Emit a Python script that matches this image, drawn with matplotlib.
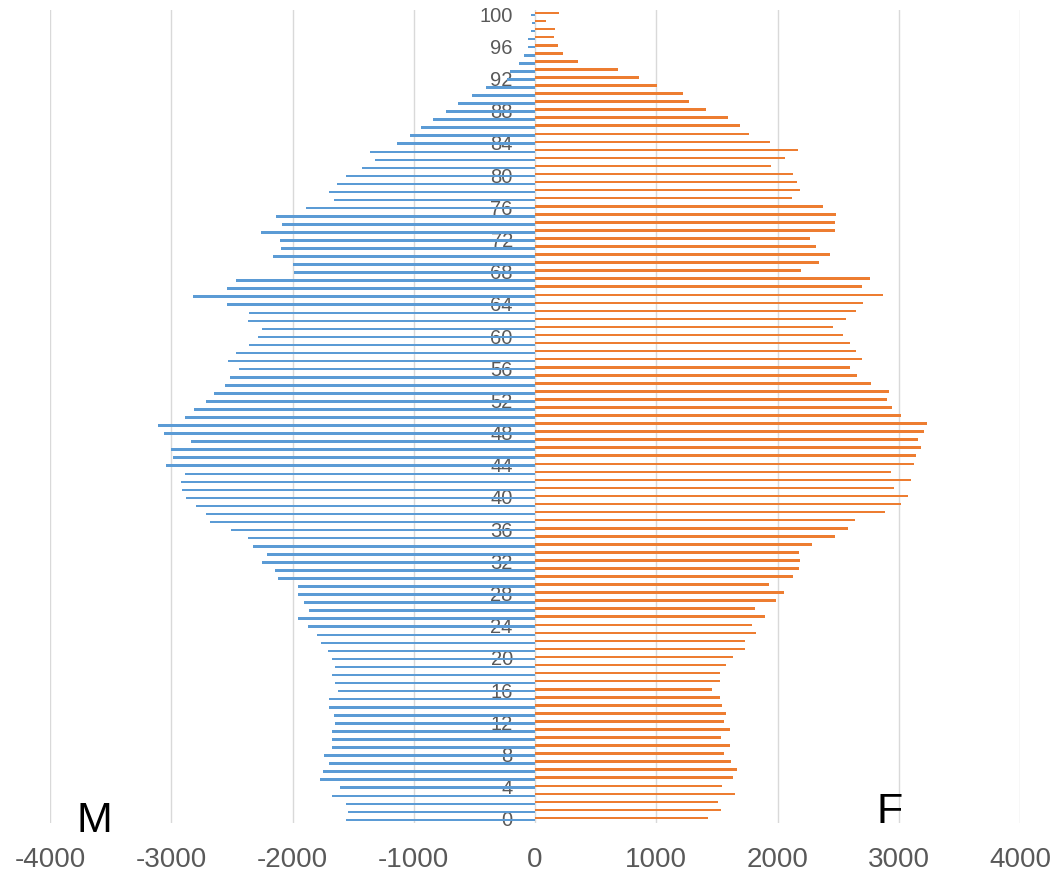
'''Befolkningspyramide, menn mot kvinner etter alder'''

import matplotlib
matplotlib.use('Agg')
import matplotlib.pyplot as plt

# Data (lest av figuren)

ages = list(range(0, 101))

male = [1561, 1544, 1556, 1672, 1611, 1772, 1750, 1700, 1739, 1672,
        1672, 1672, 1650, 1661, 1700, 1700, 1628, 1650, 1678, 1650,
        1672, 1711, 1761, 1800, 1872, 1956, 1861, 1906, 1956, 1956,
        2117, 2144, 2250, 2211, 2328, 2367, 2506, 2678, 2717, 2800,
        2878, 2911, 2922, 2889, 3044, 2983, 3006, 2833, 3056, 3111,
        2889, 2811, 2711, 2644, 2556, 2517, 2444, 2528, 2467, 2361,
        2283, 2250, 2367, 2356, 2544, 2822, 2544, 2467, 1989, 1994,
        2161, 2094, 2106, 2261, 2083, 2139, 1890, 1660, 1700, 1630,
        1560, 1430, 1320, 1360, 1140, 1030, 940, 840, 730, 635,
        520, 404, 235, 210, 130, 87, 55, 58, 36, 22,
        30]

female = [1428, 1533, 1506, 1650, 1544, 1633, 1667, 1617, 1556, 1606,
          1533, 1606, 1556, 1578, 1544, 1522, 1461, 1522, 1522, 1578,
          1633, 1728, 1733, 1822, 1789, 1900, 1811, 1989, 2056, 1928,
          2128, 2178, 2189, 2178, 2283, 2472, 2583, 2639, 2889, 3017,
          3078, 2961, 3100, 2939, 3122, 3144, 3183, 3161, 3206, 3233,
          3022, 2944, 2906, 2917, 2772, 2656, 2594, 2694, 2650, 2600,
          2539, 2456, 2561, 2650, 2706, 2867, 2694, 2761, 2194, 2339,
          2433, 2317, 2272, 2472, 2472, 2483, 2372, 2122, 2183, 2161,
          2128, 1950, 2061, 2172, 1939, 1761, 1694, 1589, 1411, 1272,
          1222, 1006, 861, 683, 356, 228, 189, 156, 167, 89,
          200]

x_ticks = [-4000, -3000, -2000, -1000, 0, 1000, 2000, 3000, 4000]
y_ticks = list(range(0, 101, 4))

# Plotting

plt.rcParams['font.family'] = ['Liberation Sans', 'DejaVu Sans']

fig = plt.figure(figsize=(10.56, 8.83), dpi=100)
ax = fig.add_axes([50/1056, 1 - 823/883, 970/1056, 813/883])

y_m = [a - 0.12 for a in ages]
y_f = [a + 0.12 for a in ages]
ax.barh(y_m, [-v for v in male], height=0.32, color='#5B9BD5', zorder=3)
ax.barh(y_f, female, height=0.32, color='#ED7D31', zorder=3)

ax.set_xlim(-4000, 4000)
ax.set_ylim(-0.5, 100.5)
ax.set_xticks(x_ticks)
ax.set_xticklabels([str(t) for t in x_ticks])
ax.set_yticks(y_ticks)
ax.set_yticklabels([str(t) for t in y_ticks])

ax.grid(axis='x', color='#D9D9D9', linewidth=1.0, zorder=0)
ax.grid(axis='y', visible=False)

for s in ['top', 'right', 'bottom']:
  ax.spines[s].set_visible(False)
ax.spines['left'].set_position(('data', 0))
ax.spines['left'].set_visible(False)

ax.tick_params(axis='x', length=0, pad=17, labelsize=20, labelcolor='#595959')
ax.tick_params(axis='y', length=0, pad=16, labelsize=14.5, labelcolor='#595959')

fig.text(94/1056, 1 - 832/883, 'M', fontsize=31, color='black',
         ha='center', va='baseline')
fig.text(890/1056, 1 - 823/883, 'F', fontsize=31, color='black',
         ha='center', va='baseline')

fig.savefig('out.png', dpi=100)
